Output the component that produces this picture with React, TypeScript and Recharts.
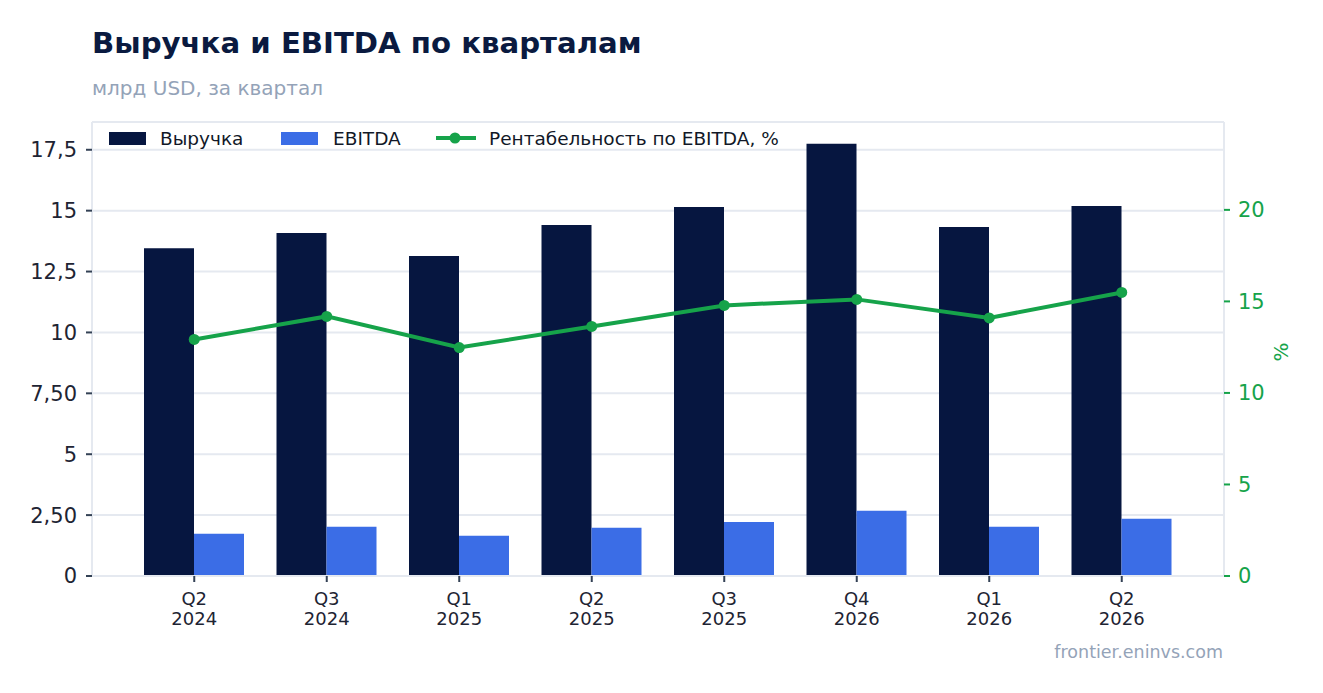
import React from 'react';
import {
  ComposedChart,
  Bar,
  Line,
  XAxis,
  YAxis,
  CartesianGrid,
} from 'recharts';

const categories = ['Q2 2024', 'Q3 2024', 'Q1 2025', 'Q2 2025', 'Q3 2025', 'Q4 2026', 'Q1 2026', 'Q2 2026'];
const revenue = [13.46, 14.08, 13.14, 14.41, 15.15, 17.75, 14.33, 15.19];
const ebitda = [1.73, 2.02, 1.65, 1.98, 2.22, 2.68, 2.02, 2.35];
const margin = [12.92, 14.18, 12.48, 13.63, 14.78, 15.11, 14.1, 15.49];

const leftTicks = [0, 2.5, 5, 7.5, 10, 12.5, 15, 17.5];
const leftTickLabels = ['0', '2,50', '5', '7,50', '10', '12,5', '15', '17,5'];
const rightTicks = [0, 5, 10, 15, 20];

const seriesNames = ['Выручка', 'EBITDA', 'Рентабельность по EBITDA, %'];
const title = 'Выручка и EBITDA по кварталам';
const subtitle = 'млрд USD, за квартал';
const source = 'frontier.eninvs.com';
const rightAxisTitle = '%';

const NAVY = '#061640';
const BLUE = '#3b6de6';
const GREEN = '#16a34a';
const GRID = '#e5e9f0';
const FONT = '"DejaVu Sans", sans-serif';

const data = categories.map((c, i) => ({
  cat: c,
  revenue: revenue[i],
  ebitda: ebitda[i],
  margin: margin[i],
}));

const XTick = (props: any) => {
  const { x, y, payload } = props;
  const parts = String(payload.value).split(' ');
  return (
    <g>
      <text x={x} y={y + 21} textAnchor="middle" fontSize={18} fill="#1e2433" fontFamily={FONT}>
        {parts[0]}
      </text>
      <text x={x} y={y + 41} textAnchor="middle" fontSize={18} fill="#1e2433" fontFamily={FONT}>
        {parts[1]}
      </text>
    </g>
  );
};

const RightTitle = (props: any) => {
  const vb = props.viewBox || {};
  const cx = vb.x + vb.width - 34;
  const cy = vb.y + vb.height / 2 + 3;
  return (
    <text
      x={cx}
      y={cy}
      transform={`rotate(-90, ${cx}, ${cy})`}
      textAnchor="middle"
      dominantBaseline="central"
      fontSize={20}
      fill={GREEN}
      fontFamily={FONT}
    >
      {rightAxisTitle}
    </text>
  );
};

export default function App() {
  return (
    <div style={{ position: 'relative', width: 1307, height: 677, fontFamily: FONT, background: '#fff' }}>
      <div
        style={{
          position: 'absolute',
          left: 84,
          top: 21,
          fontSize: 29.2,
          lineHeight: '29px',
          fontWeight: 'bold',
          color: '#0a1a40',
          whiteSpace: 'nowrap',
        }}
      >
        {title}
      </div>
      <div
        style={{
          position: 'absolute',
          left: 84,
          top: 70,
          fontSize: 20,
          lineHeight: '20px',
          color: '#94a3b8',
          whiteSpace: 'nowrap',
        }}
      >
        {subtitle}
      </div>
      <ComposedChart
        width={1307}
        height={677}
        data={data}
        margin={{ top: 114, right: 0, bottom: 49, left: 0 }}
        barGap={0}
      >
        <CartesianGrid yAxisId="left" vertical={false} stroke={GRID} strokeWidth={2} />
        <XAxis
          dataKey="cat"
          height={60}
          padding={{ left: 36, right: 36 }}
          axisLine={{ stroke: GRID, strokeWidth: 2 }}
          tickLine={{ stroke: '#334155', strokeWidth: 2 }}
          tickSize={6}
          tickMargin={2}
          tick={<XTick />}
          interval={0}
        />
        <YAxis
          yAxisId="left"
          width={84}
          domain={[0, 18.64]}
          ticks={leftTicks}
          interval={0}
          tickFormatter={(v: number) => leftTickLabels[leftTicks.indexOf(v)] ?? String(v)}
          axisLine={{ stroke: GRID, strokeWidth: 2 }}
          tickLine={{ stroke: '#334155', strokeWidth: 2 }}
          tickSize={6}
          tickMargin={9}
          tick={{ fontSize: 21, fill: '#1e2433', fontFamily: FONT }}
        />
        <YAxis
          yAxisId="right"
          orientation="right"
          width={91}
          domain={[0, 24.8]}
          ticks={rightTicks}
          interval={0}
          axisLine={{ stroke: GRID, strokeWidth: 2 }}
          tickLine={{ stroke: GREEN, strokeWidth: 2 }}
          tickSize={6}
          tickMargin={8}
          tick={{ fontSize: 21, fill: GREEN, fontFamily: FONT }}
          label={<RightTitle />}
        />
        <Bar yAxisId="left" dataKey="revenue" name={seriesNames[0]} fill={NAVY} barSize={50} isAnimationActive={false} />
        <Bar yAxisId="left" dataKey="ebitda" name={seriesNames[1]} fill={BLUE} barSize={50} isAnimationActive={false} />
        <Line
          yAxisId="right"
          type="linear"
          dataKey="margin"
          name={seriesNames[2]}
          stroke={GREEN}
          strokeWidth={4}
          dot={{ r: 5.5, fill: GREEN, stroke: GREEN, strokeWidth: 0 }}
          activeDot={false}
          isAnimationActive={false}
        />
      </ComposedChart>
      <div style={{ position: 'absolute', left: 0, top: 120, height: 20, width: 1307, fontSize: 18.5, color: '#111827' }}>
        <div style={{ position: 'absolute', left: 101, top: 4, width: 37, height: 13, background: NAVY }} />
        <div style={{ position: 'absolute', left: 152, top: 0, lineHeight: '21px', whiteSpace: 'nowrap' }}>{seriesNames[0]}</div>
        <div style={{ position: 'absolute', left: 273, top: 4, width: 37, height: 13, background: BLUE }} />
        <div style={{ position: 'absolute', left: 325, top: 0, lineHeight: '21px', whiteSpace: 'nowrap' }}>{seriesNames[1]}</div>
        <svg style={{ position: 'absolute', left: 427, top: 0 }} width={42} height={20}>
          <line x1={1} y1={10} x2={41} y2={10} stroke={GREEN} strokeWidth={4} />
          <circle cx={20} cy={10} r={5.5} fill={GREEN} />
        </svg>
        <div style={{ position: 'absolute', left: 481, top: 0, lineHeight: '21px', whiteSpace: 'nowrap' }}>{seriesNames[2]}</div>
      </div>
      <div
        style={{
          position: 'absolute',
          right: 92,
          top: 636,
          fontSize: 17.5,
          lineHeight: '17px',
          color: '#94a3b8',
          whiteSpace: 'nowrap',
        }}
      >
        {source}
      </div>
    </div>
  );
}
